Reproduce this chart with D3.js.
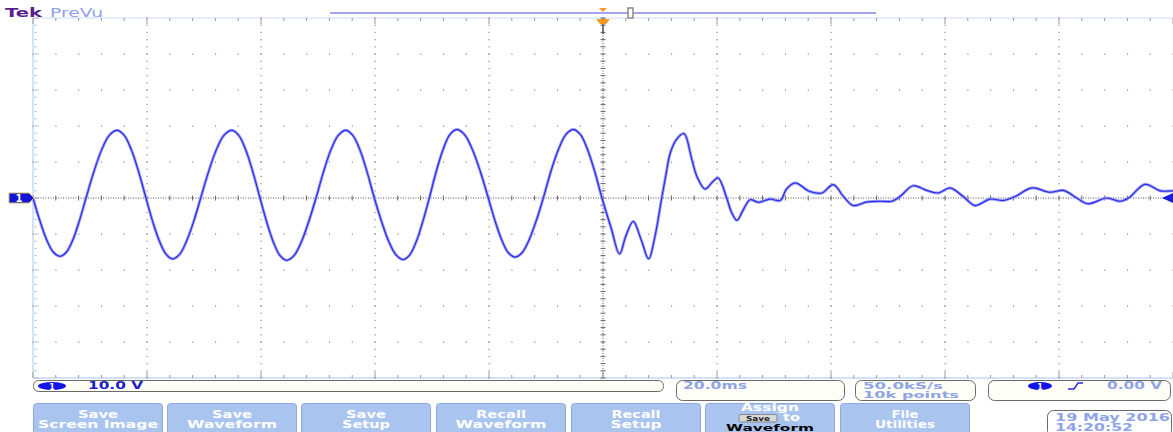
<!DOCTYPE html>
<html><head><meta charset="utf-8">
<script src="https://cdn.jsdelivr.net/npm/d3@7/dist/d3.min.js"></script>
<style>
html,body{margin:0;padding:0;background:#fff;overflow:hidden}
svg{display:block;font-family:"DejaVu Sans",sans-serif}
</style></head><body>
<svg id="c" width="1173" height="432"></svg>
<script>
// ---- data (time in ms, voltage in V) ----
const timeMs = [
  -100,-98.82,-97.63,-96.45,-95.26,-94.12,-92.98,-91.84,
  -90.70,-89.34,-87.98,-86.62,-85.26,-83.99,-82.72,-81.45,
  -80.18,-79.01,-77.84,-76.66,-75.49,-74.26,-73.04,-71.81,
  -70.58,-69.22,-67.86,-66.50,-65.14,-63.90,-62.66,-61.42,
  -60.18,-59.01,-57.84,-56.66,-55.49,-54.21,-52.92,-51.64,
  -50.35,-49.05,-47.75,-46.44,-45.14,-43.89,-42.63,-41.38,
  -40.12,-38.85,-37.58,-36.31,-35.04,-33.90,-32.76,-31.61,
  -30.47,-29.27,-28.07,-26.87,-25.67,-24.28,-22.90,-21.51,
  -20.12,-18.95,-17.78,-16.61,-15.44,-14.20,-12.96,-11.71,
  -10.47,-9.16,-7.84,-6.53,-5.21,-3.95,-2.70,-1.44,
  -0.18,1.4,2.9,4.0,5.3,6.7,8.0,9.1,10.3,11.1,11.8,12.9,14.2,15.6,16.5,17.9,19.3,20.2,21.7,22.5,23.5,24.6,25.8,27.3,29.3,31.1,32.2,33.7,36.3,38.4,40.4,42.2,43.9,46.3,48.6,50.7,52.1,54.4,56.8,58.8,60.9,63.2,65.3,67.9,70.2,72.3,75.2,78.4,80.8,83.1,85.1,88.4,90.7,92.2,95.1,97.7,100];
const volts = [
  0,-6.2,-11.5,-15.0,-16.2,-15.0,-11.5,-6.2,
  0,7.2,13.3,17.4,18.8,17.4,13.3,7.2,
  0,-6.5,-11.9,-15.6,-16.9,-15.6,-11.9,-6.5,
  0,7.2,13.3,17.4,18.8,17.4,13.3,7.2,
  0,-6.6,-12.2,-16.0,-17.3,-16.0,-12.2,-6.6,
  0,7.2,13.3,17.4,18.8,17.4,13.3,7.2,
  0,-6.5,-12.1,-15.8,-17.1,-15.8,-12.1,-6.5,
  0,7.3,13.4,17.6,19.0,17.6,13.4,7.3,
  0,-6.3,-11.6,-15.2,-16.4,-15.2,-11.6,-6.3,
  0,7.3,13.4,17.6,19.0,17.6,13.4,7.3,
  0,-8.2,-15.5,-10.6,-6.5,-11.6,-16.9,-10.8,0,7.0,12.5,16.3,17.9,10.6,5.9,2.5,4.6,5.6,0,-3.8,-6.2,-3.3,-0.5,-1.2,-0.3,-0.7,2.5,4.2,1.8,1.4,3.7,0.4,-2.1,-1.1,-0.9,-0.9,0.4,3.4,2.1,1.4,2.8,0.4,-2.1,-0.3,-0.7,0.4,2.8,1.6,2.1,0,-1.6,0,-0.9,0,3.8,2.0,2.0];

const timeDomain = [-100, 100];      // 20.0 ms/div, 10 div
const voltDomain = [-50, 50];        // 10.0 V/div
const timeMajor = d3.range(-100, 101, 20);
const timeMinor = d3.range(-100, 101, 4);
const voltMajor = d3.range(-50, 51, 10);
const voltMinor = d3.range(-50, 51, 2);

const buttonLabels = [["Save","Screen Image"],["Save","Waveform"],["Save","Setup"],["Recall","Waveform"],["Recall","Setup"],["Assign","Waveform"],["File","Utilities"]];
const channelScale = "10.0 V";
const timeScale = "20.0ms";
const sampleRate = ["50.0kS/s","10k points"];
const triggerLevel = "0.00 V";
const dateLines = ["19 May 2016","14:20:52"];

// ---- scales ----
const svg = d3.select("#c");
const x = d3.scaleLinear().domain(timeDomain).range([33, 1173]);
const y = d3.scaleLinear().domain(voltDomain).range([378, 18]);

function txt(sel, s, o) {
  const t = sel.append("text").attr("x", o.x).attr("y", o.y).attr("fill", o.fill)
    .attr("font-size", o.size).attr("font-weight", o.weight || "bold").text(s);
  if (o.anchor) t.attr("text-anchor", o.anchor);
  if (o.w) t.attr("textLength", o.w).attr("lengthAdjust", "spacingAndGlyphs");
  return t;
}

// ---- graticule ----
const g = svg.append("g");
const dotCol = "#8a8a8a";
g.append("line").attr("x1",x(-100)).attr("x2",x(-100)).attr("y1",y(50)).attr("y2",y(-50)).attr("stroke","#c4daf4").attr("stroke-width",1.5);
g.append("line").attr("x1",x(-100)).attr("x2",x(100)).attr("y1",y(50)).attr("y2",y(50)).attr("stroke","#dde9f8").attr("stroke-width",1.5);
g.append("line").attr("x1",x(-100)).attr("x2",x(100)).attr("y1",y(-50)).attr("y2",y(-50)).attr("stroke","#c4daf4").attr("stroke-width",1.5);

voltMajor.filter(v => v !== 0 && v !== 50 && v !== -50).forEach(v => {
  g.selectAll(null).data(timeMinor).enter().append("rect")
    .attr("x", t => x(t) - 0.5).attr("y", y(v) - 0.5).attr("width", 1.2).attr("height", 1.2).attr("fill", dotCol);
});
timeMajor.filter(t => t !== 0 && t !== -100 && t !== 100).forEach(t => {
  g.selectAll(null).data(voltMinor).enter().append("rect")
    .attr("x", x(t) - 0.5).attr("y", v => y(v) - 0.5).attr("width", 1.2).attr("height", 1.2).attr("fill", dotCol);
});
g.selectAll(null).data(voltMinor).enter().append("rect")
  .attr("x", x(-100) + 1.5).attr("y", v => y(v) - 0.5).attr("width", v => v % 10 === 0 ? 4 : 2).attr("height", 1).attr("fill", "#b0b0b0");
[50, -50].forEach(v => {
  const dir = v > 0 ? 1 : -1;
  g.selectAll(null).data(timeMinor).enter().append("line")
    .attr("x1", t => x(t)).attr("x2", t => x(t))
    .attr("y1", y(v)).attr("y2", t => y(v) + dir * (t % 20 === 0 ? 6 : 3))
    .attr("stroke", "#9a9a9a").attr("stroke-width", 1);
});
g.append("line").attr("x1",x(-100)).attr("x2",x(100)).attr("y1",y(0)).attr("y2",y(0))
  .attr("stroke","#555").attr("stroke-width",1).attr("stroke-dasharray","1,1.5");
g.selectAll(null).data(timeMinor).enter().append("line")
  .attr("x1", t => x(t)).attr("x2", t => x(t)).attr("y1", y(0) - 2.5).attr("y2", y(0) + 2.5)
  .attr("stroke", "#666").attr("stroke-width", 1);
g.append("line").attr("x1",x(0)).attr("x2",x(0)).attr("y1",y(50)).attr("y2",y(-50))
  .attr("stroke","#555").attr("stroke-width",1).attr("stroke-dasharray","1,1.5");
g.selectAll(null).data(voltMinor).enter().append("line")
  .attr("x1", x(0) - 2.5).attr("x2", x(0) + 2.5).attr("y1", v => y(v)).attr("y2", v => y(v))
  .attr("stroke", "#666").attr("stroke-width", 1);

// ---- waveform ----
const pts = timeMs.map((t, i) => [t, volts[i]]);
const line = d3.line().x(d => x(d[0])).y(d => y(d[1])).curve(d3.curveCatmullRom.alpha(0.5));
svg.append("path").attr("d", line(pts)).attr("fill","none").attr("stroke","#a0a0f4").attr("stroke-width",3);
svg.append("path").attr("d", line(pts)).attr("fill","none").attr("stroke","#2c2ce6").attr("stroke-width",1.2);

// ---- channel / trigger markers ----
const y0 = y(0);
svg.append("path").attr("d", `M9,${y0-5} L29,${y0-5} L34,${y0} L29,${y0+5} L9,${y0+5} Z`)
  .attr("fill","#1414d8").attr("stroke","#c8b868").attr("stroke-width",1);
txt(svg, "1", {x:19, y:y0+4, fill:"#fff", size:10, anchor:"middle"});
svg.append("path").attr("d", `M1162,${y0} L1173,${y0-5} L1173,${y0+5} Z`).attr("fill","#1a1ae0");

// ---- top header ----
txt(svg, "Tek", {x:5, y:17, fill:"#5a1e8e", size:13, w:37});
txt(svg, "PreVu", {x:50, y:17, fill:"#8fa2e6", size:13, weight:"normal", w:53});
svg.append("line").attr("x1",330).attr("x2",876).attr("y1",13).attr("y2",13).attr("stroke","#a4a4f0").attr("stroke-width",2);
svg.append("path").attr("d",`M${x(0)-4},8 L${x(0)+4},8 L${x(0)},12 Z`).attr("fill","#f59a1c");
svg.append("rect").attr("x",628).attr("y",8).attr("width",5).attr("height",10).attr("fill","#fff").attr("stroke","#888").attr("stroke-width",1.5);
svg.append("path").attr("d",`M${x(0)-7},19 L${x(0)+7},19 L${x(0)+3},24 L${x(0)-3},24 Z`).attr("fill","#f59a1c");
svg.append("line").attr("x1",x(0)).attr("x2",x(0)).attr("y1",24).attr("y2",34).attr("stroke","#555").attr("stroke-width",1.5);

// ---- status bar ----
const boxStroke = "#6a6a6a", boxFill = "#fffff8", lightText = "#8ea4e6";
svg.append("rect").attr("x",33.5).attr("y",380.5).attr("width",630).attr("height",11).attr("rx",5).attr("fill",boxFill).attr("stroke",boxStroke);
svg.append("ellipse").attr("cx",52).attr("cy",386).attr("rx",14).attr("ry",4).attr("fill","#1414e8");
txt(svg, "1", {x:52, y:389.5, fill:"#fff", size:8, anchor:"middle"});
txt(svg, channelScale, {x:88, y:389, fill:"#1e1ec8", size:10, w:55});

svg.append("rect").attr("x",676.5).attr("y",380.5).attr("width",168).attr("height",20).attr("rx",6).attr("fill",boxFill).attr("stroke",boxStroke);
txt(svg, timeScale, {x:683, y:389, fill:lightText, size:10, w:64});

svg.append("rect").attr("x",855.5).attr("y",380.5).attr("width",120).attr("height",20).attr("rx",6).attr("fill",boxFill).attr("stroke",boxStroke);
txt(svg, sampleRate[0], {x:863, y:389, fill:lightText, size:9, w:80});
txt(svg, sampleRate[1], {x:863, y:397.5, fill:lightText, size:9, w:96});

svg.append("rect").attr("x",988.5).attr("y",380.5).attr("width",182).attr("height",20).attr("rx",6).attr("fill",boxFill).attr("stroke",boxStroke);
svg.append("ellipse").attr("cx",1040).attr("cy",386).attr("rx",12).attr("ry",4).attr("fill","#1414e8");
txt(svg, "1", {x:1040, y:389.5, fill:"#fff", size:8, anchor:"middle"});
svg.append("path").attr("d","M1068,389 L1074,389 L1078,383 L1083,383").attr("fill","none").attr("stroke","#2a2ae0").attr("stroke-width",1.5);
txt(svg, triggerLevel, {x:1107, y:389, fill:lightText, size:10, w:55});

// ---- soft buttons ----
const btnX = [33, 167, 301, 436, 571, 705, 840];
const btnW = 129;
const lineWidths = [[40,120],[40,90],[40,48],[50,91],[49,51],[58,88],[27,60]];
btnX.forEach((bx, i) => {
  const bg = svg.append("g");
  bg.append("rect").attr("x",bx+0.5).attr("y",403.5).attr("width",btnW).attr("height",34).attr("rx",3)
    .attr("fill","#a9c4ee").attr("stroke","#8eaad8");
  const cx = bx + btnW / 2 + 0.5;
  const [l1, l2] = buttonLabels[i];
  if (i === 5) {
    txt(bg, l1, {x:cx, y:410.5, fill:"#fff", size:10, anchor:"middle", w:lineWidths[i][0]});
    bg.append("rect").attr("x",739).attr("y",414.5).attr("width",38).attr("height",7.5).attr("rx",2).attr("fill","#d8d8d8").attr("stroke","#777").attr("stroke-width",0.8);
    txt(bg, "Save", {x:758, y:420.8, fill:"#222", size:7, anchor:"middle", w:24});
    txt(bg, "to", {x:783, y:421, fill:"#fff", size:10, w:17});
    txt(bg, l2, {x:cx, y:430.5, fill:"#000", size:9, anchor:"middle", w:lineWidths[i][1]});
  } else {
    txt(bg, l1, {x:cx, y:417.5, fill:"#fff", size:10, anchor:"middle", w:lineWidths[i][0]});
    txt(bg, l2, {x:cx, y:427.5, fill:"#fff", size:10, anchor:"middle", w:lineWidths[i][1]});
  }
});

// ---- date box ----
svg.append("rect").attr("x",1047.5).attr("y",410.5).attr("width",124).attr("height",26).attr("rx",6).attr("fill","#fff").attr("stroke",boxStroke);
txt(svg, dateLines[0], {x:1055, y:421, fill:lightText, size:10, w:115});
txt(svg, dateLines[1], {x:1055, y:430.5, fill:lightText, size:10, w:78});
</script>
</body></html>
